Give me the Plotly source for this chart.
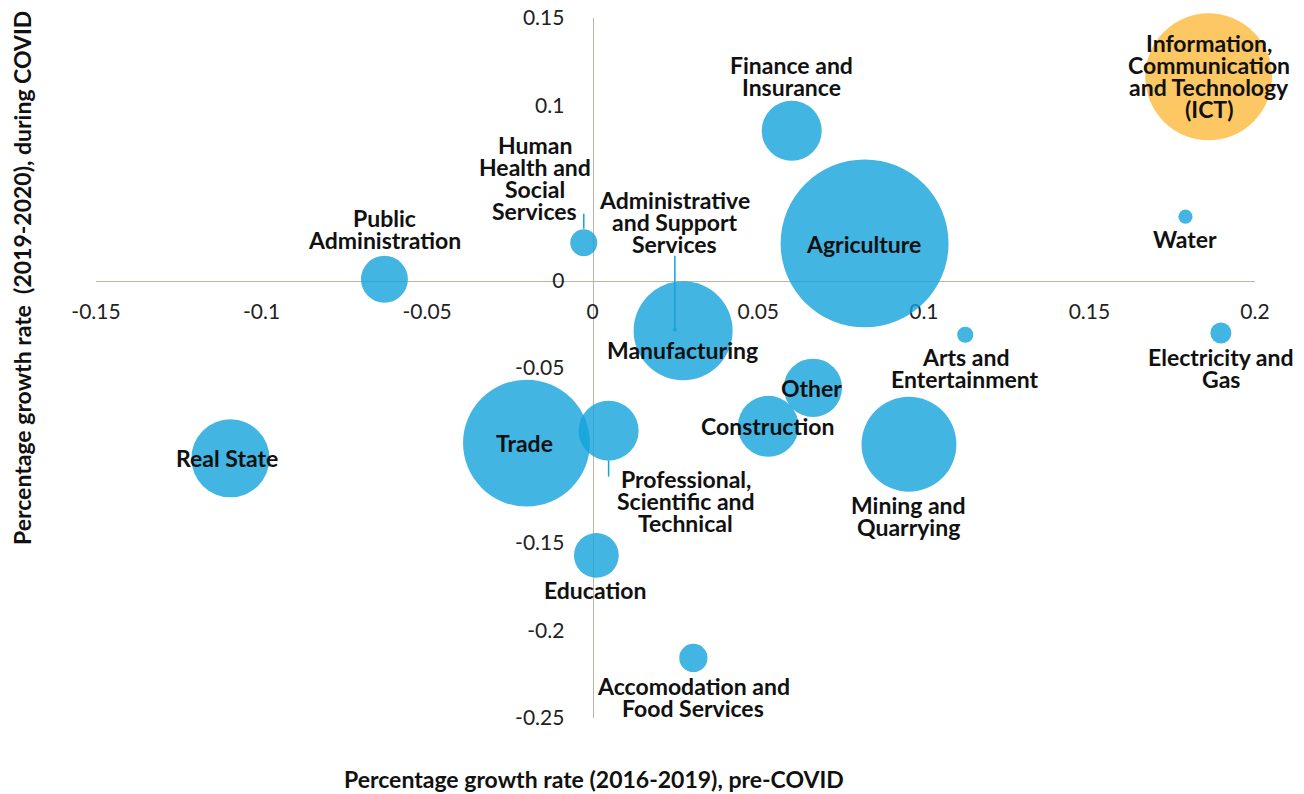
import plotly.graph_objects as go

# Sector growth rates: pre-COVID (2016-2019) vs during COVID (2019-2020)
sectors = [
    "Agriculture", "Information, Communication and Technology (ICT)", "Trade",
    "Manufacturing", "Administrative and Support Services", "Mining and Quarrying",
    "Real State", "Construction", "Professional, Scientific and Technical",
    "Finance and Insurance", "Other", "Public Administration", "Education",
    "Accomodation and Food Services", "Human Health and Social Services",
    "Electricity and Gas", "Arts and Entertainment", "Water",
]
growth_pre = [
    0.0821, 0.1860, -0.0200,
    0.0273, 0.0248, 0.0955,
    -0.1094, 0.0530, 0.0048,
    0.0601, 0.0665, -0.0629, 0.0011,
    0.0304, -0.0027,
    0.1897, 0.1125, 0.1790,
]
growth_covid = [
    0.0212, 0.1164, -0.0929,
    -0.0287, -0.0281, -0.0936,
    -0.1016, -0.0833, -0.0858,
    0.0856, -0.0613, 0.0007, -0.1571,
    -0.2157, 0.0216,
    -0.0300, -0.0310, 0.0365,
]
# Relative sector weight (bubble area)
weight = [
    28.2, 16.1, 16.1,
    9.8, 0.016, 9.0,
    6.1, 3.7, 3.6,
    3.6, 3.4, 2.2, 2.0,
    0.8, 0.73,
    0.44, 0.26, 0.2,
]
label_text = {
    "Agriculture": "Agriculture",
    "Information, Communication and Technology (ICT)": "Information,<br>Communication<br>and Technology<br>(ICT)",
    "Trade": "Trade",
    "Manufacturing": "Manufacturing",
    "Administrative and Support Services": "Administrative<br>and Support<br>Services",
    "Mining and Quarrying": "Mining and<br>Quarrying",
    "Real State": "Real State",
    "Construction": "Construction",
    "Professional, Scientific and Technical": "Professional,<br>Scientific and<br>Technical",
    "Finance and Insurance": "Finance and<br>Insurance",
    "Other": "Other",
    "Public Administration": "Public<br>Administration",
    "Education": "Education",
    "Accomodation and Food Services": "Accomodation and<br>Food Services",
    "Human Health and Social Services": "Human<br>Health and<br>Social<br>Services",
    "Electricity and Gas": "Electricity and<br>Gas",
    "Arts and Entertainment": "Arts and<br>Entertainment",
    "Water": "Water",
}
x_ticks = [-0.15, -0.1, -0.05, 0, 0.05, 0.1, 0.15, 0.2]
x_tick_text = ["-0.15", "-0.1", "-0.05", "0", "0.05", "0.1", "0.15", "0.2"]
y_ticks = [-0.25, -0.2, -0.15, -0.05, 0, 0.1, 0.15]
y_tick_text = ["-0.25", "-0.2", "-0.15", "-0.05", "0", "0.1", "0.15"]

highlighted = {"Information, Communication and Technology (ICT)"}

# ---- styling ----
BLUE = "rgb(19,163,219)"
ORANGE = "rgb(252,186,61)"
AXIS = "#BDB3A6"
FONT = "Lato"
LABEL_SIZE = 23
LINE_H = 22

# label block centre offset from the bubble centre, in pixels (dx right, dy down)
label_offset = {
    "Agriculture": (-1, 1),
    "Information, Communication and Technology (ICT)": (0, -1),
    "Trade": (-2, 0),
    "Manufacturing": (-1, 19),
    "Administrative and Support Services": (0, -108),
    "Mining and Quarrying": (0, 72),
    "Real State": (-3, 0),
    "Construction": (-1, 0),
    "Professional, Scientific and Technical": (77, 70),
    "Finance and Insurance": (0, -55),
    "Other": (-1, 0),
    "Public Administration": (0, -50),
    "Education": (-1, 35),
    "Accomodation and Food Services": (0, 39),
    "Human Health and Social Services": (-49, -65),
    "Electricity and Gas": (0, 35),
    "Arts and Entertainment": (0, 33),
    "Water": (0, 22),
}
# leader lines: (start, end) vertical pixel offsets from the bubble centre (dy down)
leaders = {
    "Human Health and Social Services": (-14, -29),
    "Administrative and Support Services": (0, -74),
    "Professional, Scientific and Technical": (30, 46),
}

colors = [ORANGE if s in highlighted else BLUE for s in sectors]

fig = go.Figure()
fig.add_trace(go.Scatter(
    x=growth_pre, y=growth_covid, mode="markers",
    text=sectors, hoverinfo="text", cliponaxis=False,
    marker=dict(size=weight, sizemode="area", sizeref=0.002, sizemin=0,
                color=colors, opacity=0.8, line=dict(width=0)),
    showlegend=False,
))

annotations = []
for s, xv, yv in zip(sectors, growth_pre, growth_covid):
    dx, dy = label_offset[s]
    lines = label_text[s].split("<br>")
    n = len(lines)
    for i, line in enumerate(lines):
        annotations.append(dict(
            x=xv, y=yv, xref="x", yref="y", text=line, showarrow=False,
            xanchor="center", yanchor="middle",
            xshift=dx, yshift=-(dy + (i - (n - 1) / 2) * LINE_H),
            font=dict(family=FONT, size=LABEL_SIZE, color="#111111", weight=700),
        ))

shapes = []
for s, (a, b) in leaders.items():
    k = sectors.index(s)
    shapes.append(dict(
        type="line", xref="x", yref="y",
        xsizemode="pixel", ysizemode="pixel",
        xanchor=growth_pre[k], yanchor=growth_covid[k],
        x0=0, x1=0, y0=-a, y1=-b,
        line=dict(color=BLUE, width=1.5), layer="above",
    ))

# axis titles
annotations.append(dict(
    x=(594 - 96) / 1159, y=(718 - 779) / 700, xref="paper", yref="paper",
    text="Percentage growth rate (2016-2019), pre-COVID", showarrow=False,
    xanchor="center", yanchor="middle",
    font=dict(family=FONT, size=23, color="#111111", weight=700),
))
annotations.append(dict(
    x=(22 - 96) / 1159, y=(718 - 278) / 700, xref="paper", yref="paper",
    text="Percentage growth rate  (2019-2020), during COVID", showarrow=False,
    textangle=-90, xanchor="center", yanchor="middle",
    font=dict(family=FONT, size=23, color="#111111", weight=700),
))

x_range = [-0.15, 0.2]
y_range = [-0.25, 0.15]

fig.update_layout(
    width=1304, height=794,
    margin=dict(l=96, r=49, t=18, b=76, autoexpand=False),
    paper_bgcolor="white", plot_bgcolor="white",
    font=dict(family=FONT, size=21, color="#222222"),
    xaxis=dict(
        range=x_range, showgrid=False, zeroline=False,
        showline=True, linecolor=AXIS, linewidth=1.2,
        tickvals=x_ticks, ticktext=x_tick_text, ticks="",
        anchor="free", position=(0 - y_range[0]) / (y_range[1] - y_range[0]),
        layer="below traces", ticklabelstandoff=12, automargin=False,
        tickfont=dict(family=FONT, size=21, color="#222222"),
    ),
    yaxis=dict(
        range=y_range, showgrid=False, zeroline=False,
        showline=True, linecolor=AXIS, linewidth=1.2,
        tickvals=y_ticks, ticktext=y_tick_text, ticks="",
        anchor="free", position=(0 - x_range[0]) / (x_range[1] - x_range[0]),
        layer="below traces", ticklabelstandoff=24, automargin=False,
        tickfont=dict(family=FONT, size=21, color="#222222"),
    ),
    annotations=annotations,
    shapes=shapes,
    hovermode="closest",
)

fig.write_html("out.html")
